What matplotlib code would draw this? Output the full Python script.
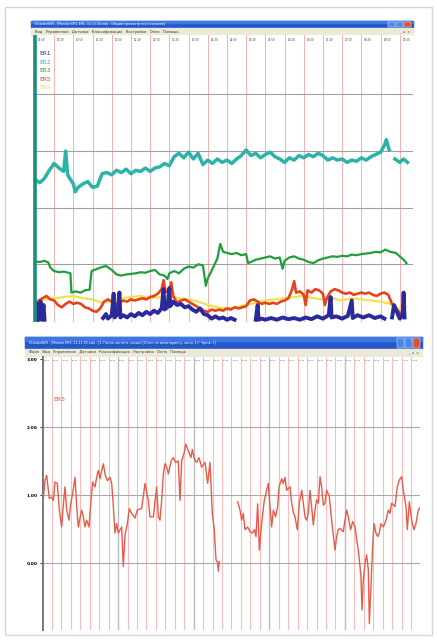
import numpy as np
import matplotlib.pyplot as plt
from matplotlib.patches import Rectangle

W, H = 437, 641
nan = np.nan

# ---- top window: five channels, (hour, value) pairs ----
er2 = np.array([
    (0.0, 2.50), (0.25, 2.44), (0.5, 2.52), (0.75, 2.66), (1.0, 2.78), (1.25, 2.70),
    (1.5, 2.64), (1.6, 3.00), (1.7, 2.60), (1.75, 2.55), (2.0, 2.42), (2.1, 2.28),
    (2.25, 2.36), (2.5, 2.42), (2.75, 2.46), (3.0, 2.36), (3.25, 2.38), (3.5, 2.60),
    (3.75, 2.62), (4.0, 2.58), (4.25, 2.66), (4.5, 2.62), (4.75, 2.68), (5.0, 2.60),
    (5.25, 2.66), (5.5, 2.64), (5.75, 2.70), (6.0, 2.64), (6.25, 2.70), (6.5, 2.72),
    (6.75, 2.78), (7.0, 2.74), (7.25, 2.90), (7.5, 2.96), (7.75, 2.88), (8.0, 2.98),
    (8.25, 2.86), (8.5, 2.96), (8.75, 2.76), (9.0, 2.84), (9.25, 2.78), (9.5, 2.86),
    (9.75, 2.80), (10.0, 2.84), (10.25, 2.78), (10.5, 2.86), (10.75, 2.92), (11.0, 3.02),
    (11.25, 2.92), (11.5, 2.96), (11.75, 2.88), (12.0, 2.94), (12.25, 2.98), (12.5, 2.90),
    (12.75, 2.86), (13.0, 2.80), (13.25, 2.88), (13.5, 2.84), (13.75, 2.92), (14.0, 2.88),
    (14.25, 2.94), (14.5, 2.90), (14.75, 2.96), (15.0, 2.92), (15.25, 2.84), (15.5, 2.88),
    (15.75, 2.84), (16.0, 2.86), (16.25, 2.80), (16.5, 2.84), (16.75, 2.82), (17.0, 2.88),
    (17.25, 2.84), (17.5, 2.90), (17.75, 2.94), (18.0, 2.98), (18.2, 3.10), (18.3, 3.20),
    (18.45, 3.02), (18.6, nan), (18.75, 2.86), (19.0, 2.80), (19.2, 2.86), (19.4, 2.80),
])

er3 = np.array([
    (0.0, 1.05), (0.25, 1.04), (0.5, 1.06), (0.7, 1.03), (0.8, 0.94), (1.0, 0.88),
    (1.25, 0.86), (1.5, 0.87), (1.75, 0.85), (1.85, 0.84), (1.9, 0.50), (2.1, 0.52),
    (2.4, 0.50), (2.6, 0.54), (2.85, 0.55), (2.95, 0.88), (3.1, 0.90), (3.4, 0.94),
    (3.7, 0.97), (4.0, 0.90), (4.25, 0.82), (4.5, 0.80), (4.75, 0.82), (5.0, 0.83),
    (5.25, 0.84), (5.5, 0.86), (5.75, 0.85), (6.0, 0.88), (6.25, 0.90), (6.5, 0.82),
    (6.75, 0.80), (6.9, 0.74), (7.0, 0.84), (7.25, 0.88), (7.5, 0.84), (7.75, 0.92),
    (8.0, 0.96), (8.25, 0.94), (8.5, 1.00), (8.75, 0.98), (8.9, 0.62), (9.0, 0.75),
    (9.25, 0.92), (9.5, 1.10), (9.65, 1.36), (9.8, 1.22), (10.0, 1.20), (10.25, 1.18),
    (10.5, 1.20), (10.75, 1.16), (11.0, 1.18), (11.1, 1.02), (11.25, 1.04), (11.5, 1.08),
    (11.75, 1.10), (12.0, 1.12), (12.25, 1.14), (12.5, 1.10), (12.75, 1.12), (12.9, 0.92),
    (13.0, 1.06), (13.25, 1.12), (13.5, 1.14), (13.75, 1.10), (14.0, 1.08), (14.25, 1.04),
    (14.5, 1.02), (14.75, 1.07), (15.0, 1.10), (15.25, 1.12), (15.5, 1.14), (15.75, 1.13),
    (16.0, 1.15), (16.25, 1.14), (16.5, 1.17), (16.75, 1.16), (17.0, 1.18), (17.25, 1.19),
    (17.5, 1.20), (17.75, 1.22), (18.0, 1.21), (18.25, 1.26), (18.5, 1.22), (18.8, 1.20),
    (19.0, 1.14), (19.2, 1.08), (19.35, 1.02),
])

er5 = np.array([
    (0.0, 0.30), (0.2, 0.36), (0.4, 0.40), (0.6, 0.44), (0.8, 0.38), (1.0, 0.36),
    (1.2, 0.28), (1.4, 0.24), (1.6, 0.30), (1.8, 0.34), (2.0, 0.30), (2.2, 0.32),
    (2.4, 0.30), (2.6, 0.24), (2.8, 0.22), (3.0, 0.18), (3.2, 0.16), (3.4, 0.22),
    (3.6, 0.34), (3.8, 0.38), (4.0, 0.34), (4.2, 0.30), (4.4, 0.32), (4.6, 0.36),
    (4.8, 0.34), (5.0, 0.38), (5.2, 0.36), (5.4, 0.38), (5.6, 0.40), (5.8, 0.38),
    (6.0, 0.42), (6.2, 0.44), (6.4, 0.48), (6.6, 0.56), (6.7, 0.72), (6.8, 0.52),
    (7.0, 0.50), (7.1, 0.68), (7.2, 0.44), (7.4, 0.32), (7.6, 0.36), (7.8, 0.38),
    (8.0, 0.34), (8.2, 0.30), (8.4, 0.26), (8.6, 0.22), (8.8, 0.18), (9.0, 0.16),
    (9.2, 0.20), (9.4, 0.18), (9.6, 0.20), (9.8, 0.18), (10.0, 0.22), (10.2, 0.20),
    (10.4, 0.24), (10.6, 0.22), (10.8, 0.24), (11.0, 0.26), (11.2, 0.36), (11.4, 0.38),
    (11.6, 0.34), (11.8, 0.30), (12.0, 0.32), (12.2, 0.30), (12.4, 0.32), (12.6, 0.30),
    (12.8, 0.34), (13.0, 0.36), (13.2, 0.40), (13.4, 0.56), (13.5, 0.70), (13.6, 0.50),
    (13.8, 0.52), (14.0, 0.46), (14.1, 0.28), (14.2, 0.54), (14.4, 0.50), (14.6, 0.56),
    (14.8, 0.54), (15.0, 0.48), (15.1, 0.28), (15.2, 0.40), (15.4, 0.52), (15.6, 0.56),
    (15.8, 0.54), (16.0, 0.50), (16.2, 0.48), (16.4, 0.50), (16.6, 0.46), (16.8, 0.48),
    (17.0, 0.50), (17.2, 0.48), (17.4, 0.50), (17.6, 0.46), (17.8, 0.44), (18.0, 0.48),
    (18.2, 0.50), (18.4, 0.46), (18.6, 0.30), (18.8, 0.22), (19.0, 0.14), (19.2, 0.10),
])

er4 = np.array([
    (0.0, 0.34), (0.5, 0.38), (1.0, 0.40), (1.5, 0.42), (2.0, 0.44), (2.5, 0.40),
    (3.0, 0.38), (3.5, 0.32), (4.0, 0.36), (4.5, 0.40), (5.0, 0.42), (5.5, 0.44),
    (6.0, 0.40), (6.5, 0.42), (7.0, 0.44), (7.5, 0.40), (8.0, 0.38), (8.5, 0.34),
    (9.0, 0.28), (9.5, 0.24), (10.0, 0.22), (10.5, 0.24), (11.0, 0.28), (11.5, 0.32),
    (12.0, 0.36), (12.5, 0.38), (13.0, 0.40), (13.5, 0.42), (14.0, 0.44), (14.5, 0.40),
    (15.0, 0.38), (15.5, 0.40), (16.0, 0.36), (16.5, 0.40), (17.0, 0.38), (17.5, 0.36),
    (18.0, 0.34), (18.5, 0.30), (19.0, 0.20), (19.3, 0.26),
])

er1 = np.array([
    (0.1, 0.02), (0.15, 0.30), (0.2, 0.02), (0.3, 0.34), (0.35, 0.02), (0.45, 0.28),
    (0.5, 0.02), (0.6, nan),
    (3.55, 0.05), (3.7, 0.12), (3.8, 0.04), (4.0, 0.10), (4.1, 0.48), (4.15, 0.06),
    (4.3, 0.12), (4.4, 0.50), (4.45, 0.06), (4.6, 0.10), (4.8, 0.06), (5.0, 0.12),
    (5.2, 0.08), (5.4, 0.14), (5.6, 0.10), (5.8, 0.16), (6.0, 0.12), (6.2, 0.18),
    (6.4, 0.14), (6.6, 0.22), (6.7, 0.56), (6.75, 0.20), (6.9, 0.24), (7.0, 0.58),
    (7.05, 0.26), (7.2, 0.34), (7.4, 0.28), (7.6, 0.30), (7.8, 0.24), (8.0, 0.26),
    (8.2, 0.20), (8.4, 0.16), (8.6, 0.22), (8.8, 0.12), (9.0, 0.10), (9.2, 0.04),
    (9.4, 0.08), (9.6, 0.04), (9.8, 0.06), (10.0, 0.02), (10.2, 0.05), (10.4, 0.02),
    (10.6, nan),
    (11.5, 0.02), (11.6, 0.28), (11.65, 0.02), (11.8, 0.04), (12.0, 0.02), (12.3, 0.05),
    (12.6, 0.02), (12.9, 0.06), (13.2, 0.03), (13.5, 0.05), (13.8, 0.02), (14.1, 0.06),
    (14.4, 0.03), (14.7, 0.08), (15.0, 0.04), (15.3, 0.10), (15.4, 0.42), (15.45, 0.06),
    (15.7, 0.08), (16.0, 0.04), (16.3, 0.09), (16.5, 0.36), (16.55, 0.05), (16.8, 0.10),
    (17.1, 0.06), (17.4, 0.10), (17.7, 0.05), (18.0, 0.08), (18.2, 0.04), (18.35, nan),
    (18.6, 0.06), (18.7, 0.28), (18.8, 0.20), (18.9, 0.12), (19.0, 0.04), (19.15, 0.10),
    (19.2, 0.50), (19.25, 0.06),
])

top_names = ["ER1", "ER2", "ER3", "ER5", "ER4"]
top_colors = ["#2b2a9c", "#2bb3a8", "#1f9e3c", "#e8421c", "#f2e24a"]
top_times = ["09:50", "10:20", "10:50", "11:20", "11:50", "12:20", "12:50", "13:20",
             "13:50", "14:20", "14:50", "15:20", "15:50", "16:20", "16:50", "17:20",
             "17:50", "18:20", "18:50", "19:20"]

# ---- bottom window: one channel ER5 ----
er5_zoom = np.array([
    (0.02, 0.83), (0.26, 1.21), (0.44, 1.29), (0.72, 0.95), (0.97, 0.97), (1.15, 0.92),
    (1.32, 1.19), (1.57, 1.17), (1.78, 0.78), (2.03, 0.53), (2.2, 0.85), (2.38, 1.12),
    (2.56, 0.78), (2.8, 0.63), (2.98, 0.87), (3.19, 1.02), (3.44, 1.26), (3.62, 0.83),
    (3.79, 0.53), (4.14, 0.78), (4.32, 0.68), (4.5, 0.53), (4.67, 0.63), (4.92, 0.53),
    (5.13, 0.92), (5.31, 1.19), (5.56, 1.12), (5.73, 1.26), (5.91, 1.36), (6.08, 1.24),
    (6.26, 1.36), (6.44, 1.46), (6.61, 1.31), (6.86, 1.21), (7.14, 1.26), (7.32, 1.17),
    (7.5, 0.83), (7.67, 0.44), (7.85, 0.58), (8.02, 0.44), (8.38, 0.53), (8.55, -0.05),
    (8.73, 0.41), (8.98, 0.58), (9.19, 0.80), (9.44, 0.73), (9.79, 0.66), (10.03, 0.78),
    (10.49, 0.80), (10.85, 1.17), (11.2, 0.92), (11.38, 0.68), (11.73, 0.68), (12.08, 1.12),
    (12.26, 0.68), (12.43, 0.63), (12.61, 0.92), (12.79, 1.31), (12.96, 1.46), (13.14, 1.41),
    (13.32, 1.31), (13.6, 1.50), (13.84, 1.55), (14.09, 1.48), (14.37, 1.50), (14.55, 0.92),
    (14.73, 1.50), (15.01, 1.63), (15.15, 1.75), (15.43, 1.65), (15.71, 1.55), (15.86, 1.67),
    (16.07, 1.53), (16.31, 1.48), (16.56, 1.55), (16.84, 1.41), (17.2, 1.48), (17.48, 1.17),
    (17.72, 1.48), (17.97, 0.73), (18.18, 0.49), (18.36, 0.05), (18.54, 0.00), (18.61, -0.12),
    (18.71, 0.02), (19.5, nan),
    (20.65, 0.90), (20.9, 0.78), (21.08, 0.63), (21.25, 0.73), (21.43, 0.49), (21.71, 0.53),
    (21.96, 0.46), (22.2, 0.44), (22.42, 0.49), (22.59, 0.39), (22.77, 0.87), (22.95, 0.19),
    (23.19, 0.58), (23.47, 0.92), (23.72, 1.07), (23.9, 1.17), (24.07, 0.83), (24.25, 0.53),
    (24.43, 0.78), (24.67, 0.68), (24.89, 0.83), (25.03, 1.12), (25.31, 1.24), (25.48, 1.17),
    (25.66, 1.26), (25.84, 1.07), (26.19, 1.12), (26.37, 0.88), (26.54, 0.75), (26.72, 0.68),
    (26.97, 0.49), (27.18, 0.88), (27.43, 1.07), (27.6, 0.88), (27.78, 0.68), (27.95, 0.63),
    (28.13, 0.73), (28.31, 1.07), (28.48, 0.83), (28.66, 0.56), (28.84, 0.78), (29.01, 0.93),
    (29.19, 0.88), (29.37, 1.27), (29.54, 1.12), (29.72, 0.85), (29.89, 0.88), (30.07, 1.07),
    (30.35, 0.98), (30.6, 0.63), (30.78, 0.41), (30.95, 0.19), (31.13, 0.39), (31.3, 0.49),
    (31.48, 0.51), (31.83, 0.46), (32.01, 0.63), (32.19, 0.78), (32.36, 0.68), (32.61, 0.49),
    (32.82, 0.61), (33.07, 0.53), (33.25, 0.34), (33.42, 0.19), (33.6, -0.05), (33.7, -0.20),
    (33.81, -0.69), (33.95, -0.25), (34.13, 0.00), (34.3, 0.12), (34.48, -0.10), (34.59, -0.89),
    (34.73, -0.45), (34.94, 0.24), (35.08, 0.58), (35.29, 0.44), (35.47, 0.39), (35.64, 0.44),
    (35.82, 0.58), (36.07, 0.53), (36.35, 0.63), (36.6, 0.78), (36.77, 0.73), (36.95, 0.88),
    (37.3, 0.83), (37.55, 1.12), (37.76, 1.22), (38.01, 1.27), (38.18, 1.07), (38.47, 0.83),
    (38.61, 0.49), (38.82, 0.90), (39.07, 0.63), (39.31, 0.49), (39.52, 0.58), (39.77, 0.78),
    (40.05, 0.83),
])
bottom_yticks = [0.0, 1.0, 2.0, 3.0]
bottom_ylabels = ["0.00", "1.00", "2.00", "3.00"]
bottom_major = [8, 16, 24, 32]
bottom_times = ["%d:%02d" % (18 + m // 60, m % 60) for m in range(0, 40 * 5, 5)]

top_menu = "Вид   Управление   Датчики   Классификация   Настройки   Окно   Помощь"
bottom_menu = "Файл   Вид   Управление   Датчики   Классификация   Настройки   Окно   Помощь"
bottom_title = "ECardioWIN - [Monitor ER5, 11.11.03.edu - [1. Пятая частота, запись [Отчет по мониторингу, часть 1] / Чрезв. 1]"
top_title = "ECardioWIN - [Monitor ER1-ER5, 11.11.03.edu - Общий просмотр всех каналов]"


def rect(x0, y0, x1, y1):
    return [x0 / W, 1 - y1 / H, (x1 - x0) / W, (y1 - y0) / H]


fig = plt.figure(figsize=(W / 100, H / 100), dpi=100)
bg = fig.add_axes([0, 0, 1, 1])
bg.set_xlim(0, W)
bg.set_ylim(H, 0)
bg.axis("off")

# page frame
bg.add_patch(Rectangle((5, 7), 427, 628, fill=False, ec="#d6d6d6", lw=1))


def window(x0, y0, x1, title_h, menu_h, title, menu):
    bg.add_patch(Rectangle((x0, y0), x1 - x0, title_h, color="#2457c9"))
    bg.add_patch(Rectangle((x0, y0), x1 - x0, title_h * 0.35, color="#3d77e3"))
    bg.text(x0 + 4, y0 + title_h / 2, title, color="white", fontsize=2.3,
            va="center", ha="left")
    for i, c in enumerate(["#4a86e8", "#4a86e8", "#e0502a"]):
        bg.add_patch(Rectangle((x1 - 25 + i * 8, y0 + 1), 7, title_h - 2, color=c, ec="white", lw=0.3))
    bg.add_patch(Rectangle((x0, y0 + title_h), x1 - x0, menu_h, color="#ece9d8"))
    bg.text(x0 + 4, y0 + title_h + menu_h / 2, menu, color="#333333", fontsize=2.6,
            va="center", ha="left")
    bg.text(x1 - 14, y0 + title_h + menu_h / 2, "_  ▫  x", color="#555555", fontsize=2.4,
            va="center", ha="left")


window(31, 21, 413, 7, 7, top_title, top_menu)
window(25, 337, 422, 12, 7, bottom_title, bottom_menu)

# ---- top chart ----
ax1 = fig.add_axes(rect(33, 35, 413, 322))
ax1.set_xlim(-0.1, 19.69)
ax1.set_ylim(-0.02, 5.05)
for s in ax1.spines.values():
    s.set_visible(False)
ax1.set_xticks([])
ax1.set_yticks([])
for k in range(1, 20):
    ax1.axvline(k, color="#f7b0b0", lw=0.7, zorder=1)
for g in [1, 2, 3, 4]:
    ax1.axhline(g, color="#a0a0a0", lw=0.8, zorder=1)
for k, t in enumerate(top_times):
    ax1.text(k + 0.15, 4.96, t, fontsize=2.0, color="#444444", va="center", ha="left")
ax1.axvline(0, color="#1a8f80", lw=2.6, zorder=5)

ax1.plot(er4[:, 0], er4[:, 1], color=top_colors[4], lw=1.6, zorder=2)
ax1.plot(er5[:, 0], er5[:, 1], color=top_colors[3], lw=1.9, zorder=3)
ax1.plot(er1[:, 0], er1[:, 1], color=top_colors[0], lw=2.8, zorder=4)
ax1.plot(er3[:, 0], er3[:, 1], color=top_colors[2], lw=1.6, zorder=3)
ax1.plot(er2[:, 0], er2[:, 1], color=top_colors[1], lw=2.5, zorder=3)

for i, (n, c) in enumerate(zip(top_names, top_colors)):
    ax1.text(0.25, 4.72 - i * 0.15, n, color=c, fontsize=4.2, va="center", ha="left")

# ---- bottom chart ----
ax2 = fig.add_axes(rect(42.5, 357, 420, 630))
ax2.set_xlim(0, 39.95)
ax2.set_ylim(-0.985, 3.03)
for name, s in ax2.spines.items():
    s.set_visible(name == "left")
ax2.spines["left"].set_color("#777777")
ax2.spines["left"].set_linewidth(1.4)
ax2.set_xticks([])
ax2.set_yticks(bottom_yticks)
ax2.set_yticklabels(bottom_ylabels, fontsize=3.2, fontweight="bold")
ax2.tick_params(axis="y", length=2, width=0.6, pad=1.5)
for k in range(1, 40):
    if k in bottom_major:
        ax2.axvline(k, color="#b8bcbc", lw=1.0, zorder=1)
    else:
        ax2.axvline(k, color="#f8bcbc", lw=0.8, zorder=1)
for g in [0, 1, 2]:
    ax2.axhline(g, color="#a9a9a9", lw=0.8, zorder=1)
for k, t in enumerate(bottom_times):
    ax2.text(k + 0.1, 2.98, t, fontsize=1.5, color="#555555", va="center", ha="left")
ax2.plot(er5_zoom[:, 0], er5_zoom[:, 1], color="#ea5a48", lw=1.0, zorder=3)
ax2.text(1.1, 2.4, "ER5", color="#e8503c", fontsize=4.5, va="center", ha="left")

fig.savefig("out.png", dpi=100)
